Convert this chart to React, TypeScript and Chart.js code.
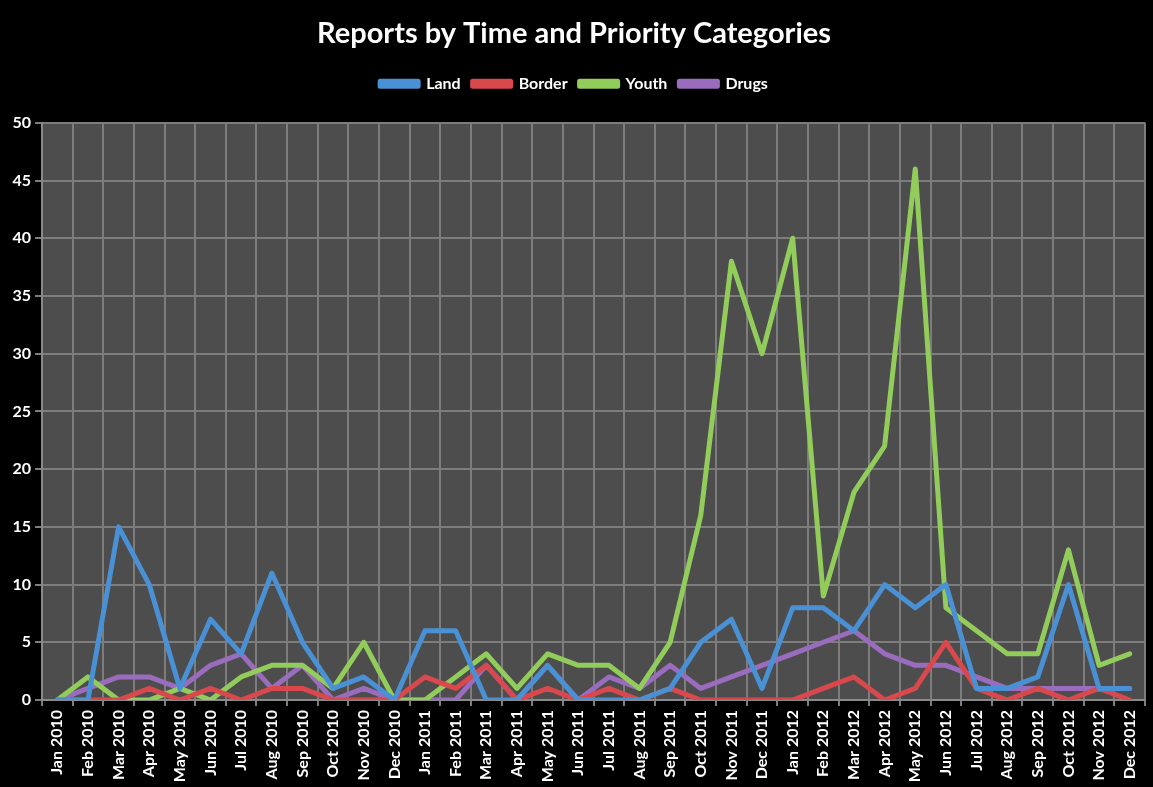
import React, { useEffect, useRef } from 'react';
import { Chart, registerables } from 'chart.js';

Chart.register(...registerables);

const titleText = 'Reports by Time and Priority Categories';

const months = [
  'Jan 2010', 'Feb 2010', 'Mar 2010', 'Apr 2010', 'May 2010', 'Jun 2010',
  'Jul 2010', 'Aug 2010', 'Sep 2010', 'Oct 2010', 'Nov 2010', 'Dec 2010',
  'Jan 2011', 'Feb 2011', 'Mar 2011', 'Apr 2011', 'May 2011', 'Jun 2011',
  'Jul 2011', 'Aug 2011', 'Sep 2011', 'Oct 2011', 'Nov 2011', 'Dec 2011',
  'Jan 2012', 'Feb 2012', 'Mar 2012', 'Apr 2012', 'May 2012', 'Jun 2012',
  'Jul 2012', 'Aug 2012', 'Sep 2012', 'Oct 2012', 'Nov 2012', 'Dec 2012',
];

const land = [0, 0, 15, 10, 1, 7, 4, 11, 5, 1, 2, 0, 6, 6, 0, 0, 3, 0, 0, 0, 1, 5, 7, 1, 8, 8, 6, 10, 8, 10, 1, 1, 2, 10, 1, 1];
const border = [0, 0, 0, 1, 0, 1, 0, 1, 1, 0, 0, 0, 2, 1, 3, 0, 1, 0, 1, 0, 1, 0, 0, 0, 0, 1, 2, 0, 1, 5, 1, 0, 1, 0, 1, 0];
const youth = [0, 2, 0, 0, 1, 0, 2, 3, 3, 1, 5, 0, 0, 2, 4, 1, 4, 3, 3, 1, 5, 16, 38, 30, 40, 9, 18, 22, 46, 8, 6, 4, 4, 13, 3, 4];
const drugs = [0, 1, 2, 2, 1, 3, 4, 1, 3, 0, 1, 0, 0, 0, 3, 0, 3, 0, 2, 1, 3, 1, 2, 3, 4, 5, 6, 4, 3, 3, 2, 1, 1, 1, 1, 1];

const seriesNames = ['Land', 'Border', 'Youth', 'Drugs'];
const seriesColors = ['#4a90d4', '#d9484c', '#92cc5a', '#9a6cbe'];

const yMin = 0;
const yMax = 50;
const yStep = 5;

const FONT = 'Lato, "Open Sans", sans-serif';

export default function App() {
  const canvasRef = useRef<HTMLCanvasElement | null>(null);

  useEffect(() => {
    document.body.style.margin = '0';
    document.body.style.background = '#000';
    const canvas = canvasRef.current;
    if (!canvas) return;

    const bgPlugin = {
      id: 'bgPlugin',
      beforeDraw(chart: any) {
        const { ctx, chartArea } = chart;
        ctx.save();
        ctx.fillStyle = '#000';
        ctx.fillRect(0, 0, chart.width, chart.height);
        ctx.fillStyle = '#4d4d4d';
        ctx.fillRect(chartArea.left, chartArea.top, chartArea.right - chartArea.left, chartArea.bottom - chartArea.top);
        ctx.restore();
      },
    };

    const legendSpacing = {
      id: 'legendSpacing',
      beforeInit(chart: any) {
        const legend = chart.legend;
        if (!legend) return;
        const orig = legend.fit;
        legend.fit = function () {
          orig.call(this);
          this.height += 21;
        };
      },
    };

    const allSeries = [land, border, youth, drugs];

    const chart = new Chart(canvas, {
      type: 'line',
      data: {
        labels: months,
        datasets: allSeries.map((d, i) => ({
          label: seriesNames[i],
          data: d,
          borderColor: seriesColors[i],
          backgroundColor: seriesColors[i],
          borderWidth: 5,
          pointRadius: 0,
          pointHoverRadius: 0,
          tension: 0,
          borderCapStyle: 'round' as const,
          borderJoinStyle: 'round' as const,
        })),
      },
      options: {
        responsive: false,
        animation: false,
        layout: { padding: { left: 0, right: 5, top: 0, bottom: 0 } },
        plugins: {
          tooltip: { enabled: false },
          title: {
            display: true,
            text: titleText,
            color: '#ffffff',
            font: { family: FONT, size: 29, weight: 'bold' },
            padding: { top: 16, bottom: 13 },
          },
          legend: {
            display: true,
            position: 'top',
            labels: {
              color: '#ffffff',
              font: { family: FONT, size: 16, weight: 'bold' },
              boxWidth: 38,
              boxHeight: 5,
              padding: 12,
            },
          },
        },
        scales: {
          x: {
            offset: true,
            grid: {
              offset: true,
              color: '#7d7d7d',
              lineWidth: 2,
              drawTicks: true,
              tickLength: 6,
            },
            border: { color: '#8a8a8a', width: 2 },
            ticks: {
              color: '#ffffff',
              font: { family: FONT, size: 16, weight: 'bold' },
              maxRotation: 90,
              minRotation: 90,
              autoSkip: false,
              padding: 4,
            },
            afterFit(scale: any) {
              scale.height = 87;
            },
          },
          y: {
            min: yMin,
            max: yMax,
            ticks: {
              stepSize: yStep,
              color: '#ffffff',
              font: { family: FONT, size: 16, weight: 'bold' },
              padding: 4,
            },
            grid: {
              color: '#7d7d7d',
              lineWidth: 2,
              tickLength: 7,
            },
            border: { color: '#8a8a8a', width: 2 },
            afterFit(scale: any) {
              scale.width = 42;
            },
          },
        },
      },
      plugins: [bgPlugin, legendSpacing],
    } as any);

    return () => {
      chart.destroy();
    };
  }, []);

  return (
    <div style={{ position: 'absolute', left: 0, top: 0, width: 1153, height: 787, background: '#000' }}>
      <canvas ref={canvasRef} width={1153} height={787} />
    </div>
  );
}
